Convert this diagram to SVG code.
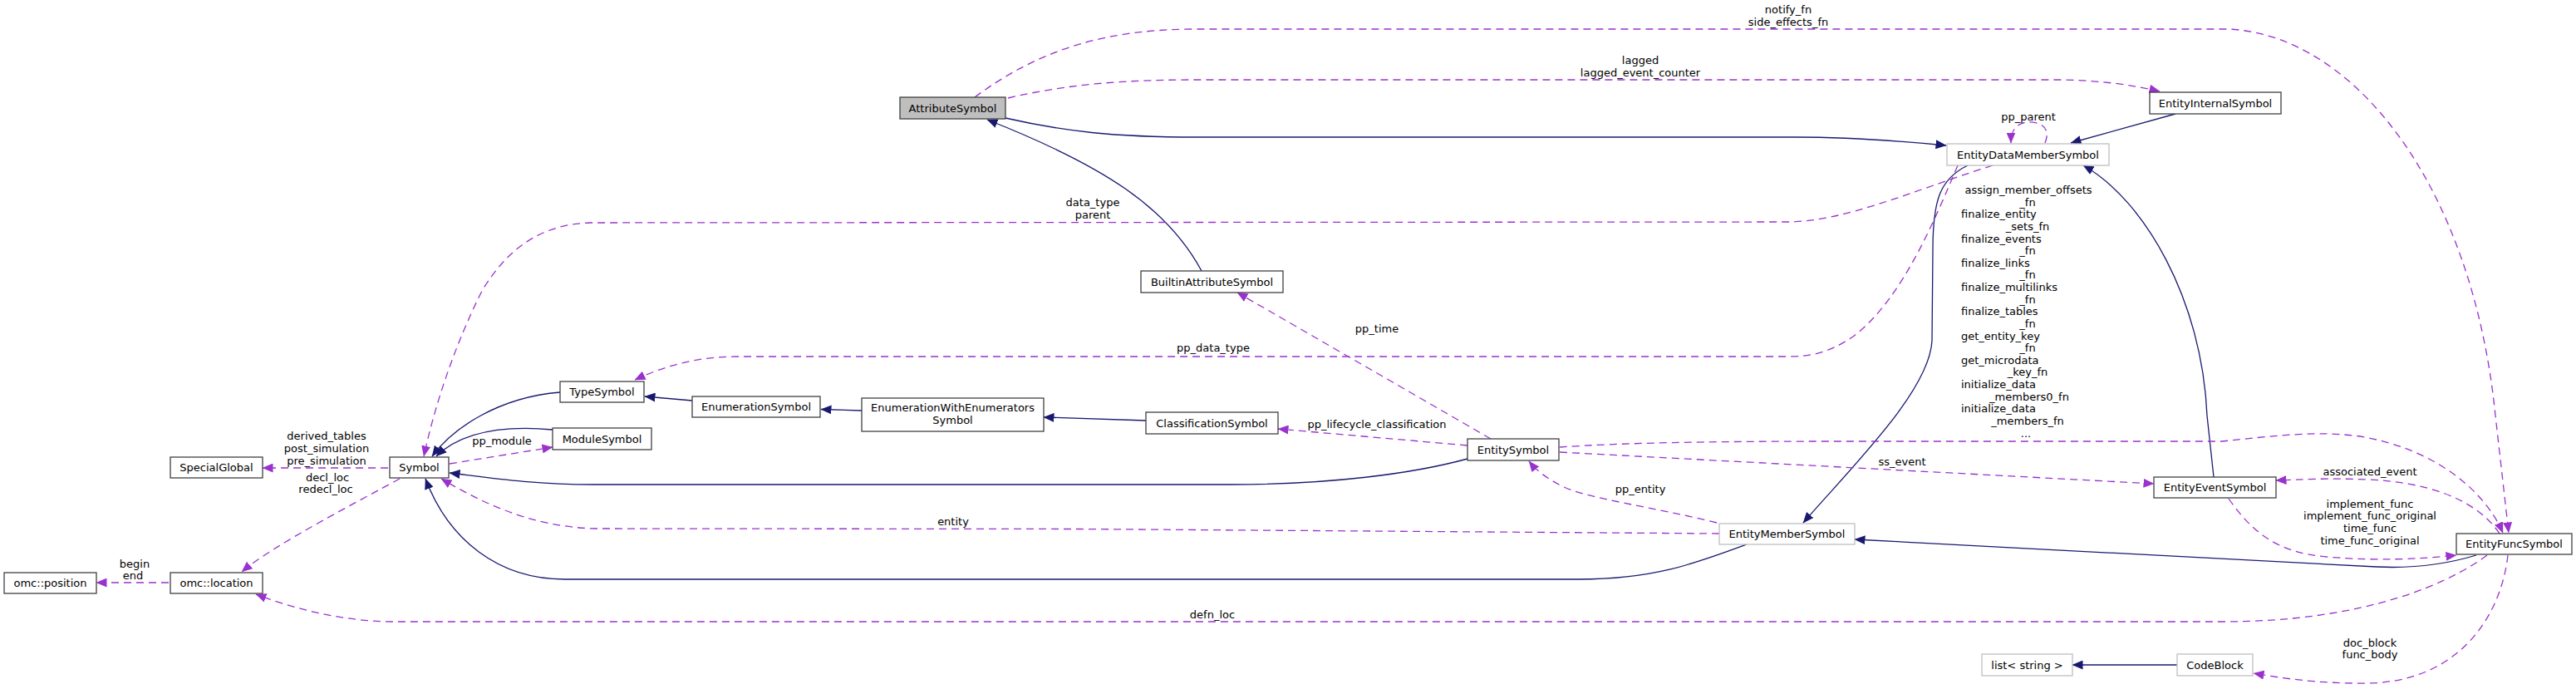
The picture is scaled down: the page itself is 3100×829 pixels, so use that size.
<svg xmlns="http://www.w3.org/2000/svg" width="3100" height="829" viewBox="0 0 3100 829">
<style>
text{font-family:"DejaVu Sans","Liberation Sans",sans-serif;font-size:13px;fill:#000}
.n rect{fill:#fff;stroke:#404040;stroke-width:1.3}
.n.g rect{stroke:#bfbfbf}
.n.f rect{fill:#bfbfbf}
.n text,.c{text-anchor:middle}
.inh{fill:none;stroke:#191970;stroke-width:1.3;marker-end:url(#an)}
.use{fill:none;stroke:#9a32cd;stroke-width:1.3;stroke-dasharray:9,6;marker-end:url(#ap)}
</style>
<defs>
<marker id="an" markerUnits="userSpaceOnUse" markerWidth="13" markerHeight="11" viewBox="0 0 13 11" refX="12.5" refY="5.5" orient="auto"><path d="M0,0 L13,5.5 L0,11 z" fill="#191970"/></marker>
<marker id="ap" markerUnits="userSpaceOnUse" markerWidth="13" markerHeight="11" viewBox="0 0 13 11" refX="12.5" refY="5.5" orient="auto"><path d="M0,0 L13,5.5 L0,11 z" fill="#9a32cd"/></marker>
</defs>
<rect width="3100" height="829" fill="#fff"/>
<g id="connectors">
<path class="use" d="M467,563 L316,563"/>
<path class="use" d="M481,576 C430,604 330,655 291,688"/>
<path class="use" d="M203,701 L116,701"/>
<path class="inh" d="M674,472 C600,478 545,515 520,549"/>
<path class="inh" d="M665,517 C620,513 560,515 525,549"/>
<path class="use" d="M541,558 L665,538"/>
<path class="inh" d="M833,482 L776,477"/>
<path class="inh" d="M1037,494 L988,492.5"/>
<path class="inh" d="M1379,506 L1256,502"/>
<path class="inh" d="M1446,326 C1405,250 1330,200 1188,144"/>
<path class="inh" d="M1210,142 C1280,158 1340,165 1440,165 L2160,165 C2230,165 2290,170 2342,175"/>
<path class="use" d="M1213,118 C1290,100 1360,96 1440,96 L2480,96 C2530,97 2565,102 2599,110"/>
<path class="use" d="M1173,117 C1250,60 1330,35 1440,35 L2680,35 C2830,40 2975,220 3003,500 L3019,641"/>
<path class="inh" d="M2618,137 L2492,172"/>
<path class="use" d="M2461,172 C2470,150 2450,146 2440,147 C2428,148 2420,155 2420,172"/>
<path class="use" d="M2398,199 C2300,230 2220,267 2150,267 L710,268 C650,270 610,300 580,350 C550,410 525,480 510,549"/>
<path class="use" d="M2356,199 C2330,260 2290,360 2230,405 C2200,425 2180,429 2150,429 L888,429 C840,429 800,440 764,457"/>
<path class="inh" d="M2664,574 L2656,500 C2650,360 2580,240 2507,199"/>
<path class="inh" d="M2368,199 C2335,215 2326,240 2326,300 L2325,410 C2322,470 2230,560 2170,629"/>
<path class="inh" d="M1766,552 C1700,570 1600,583 1480,583 L715,583 C640,583 590,575 541,569"/>
<path class="use" d="M1766,536 L1538,516"/>
<path class="use" d="M1794,528 L1489,352"/>
<path class="use" d="M1877,538 C1950,533 2050,531 2200,531 L2674,531 C2740,524 2790,518 2840,525 C2930,540 2990,590 3012,641"/>
<path class="use" d="M1877,544 L2592,582"/>
<path class="use" d="M2066,629 C1990,610 1910,600 1880,585 C1860,575 1848,565 1840,555"/>
<path class="use" d="M2069,642 L1300,636.5 L716,636 C640,634 580,605 531,576"/>
<path class="inh" d="M2102,655 C2040,678 1990,697 1900,697 L680,697 C600,697 540,650 512,576"/>
<path class="inh" d="M2980,668 C2940,680 2900,684 2860,682 L2232,649"/>
<path class="use" d="M3008,642 C2980,600 2920,580 2850,577 C2800,575 2770,577 2739,578"/>
<path class="use" d="M2682,600 C2710,640 2740,665 2800,670 C2860,675 2910,673 2956,668"/>
<path class="use" d="M2993,668 C2950,700 2850,748 2674,748 L474,748 C420,748 360,735 308,715"/>
<path class="use" d="M3018,668 C3010,740 2960,820 2850,822 C2790,823 2740,815 2712,810"/>
<path class="inh" d="M2620,800 L2494,800"/>
<g id="edge-labels">
<text class="c" x="393" y="529">derived_tables</text>
<text class="c" x="393" y="544">post_simulation</text>
<text class="c" x="393" y="559">pre_simulation</text>
<text class="c" x="394" y="579">decl_loc</text>
<text class="c" x="392" y="593">redecl_loc</text>
<text class="c" x="162" y="683">begin</text>
<text class="c" x="160" y="697">end</text>
<text class="c" x="604" y="535">pp_module</text>
<text class="c" x="1974" y="77">lagged</text>
<text class="c" x="1974" y="92">lagged_event_counter</text>
<text class="c" x="2152" y="16">notify_fn</text>
<text class="c" x="2152" y="31">side_effects_fn</text>
<text class="c" x="2441" y="145">pp_parent</text>
<text class="c" x="1315" y="248">data_type</text>
<text class="c" x="1315" y="263">parent</text>
<text class="c" x="1460" y="423">pp_data_type</text>
<text class="c" x="1657" y="400">pp_time</text>
<text class="c" x="1657" y="515">pp_lifecycle_classification</text>
<text class="c" x="1974" y="593">pp_entity</text>
<text class="c" x="1147" y="632">entity</text>
<text class="c" x="2289" y="560">ss_event</text>
<text class="c" x="2852" y="572">associated_event</text>
<text class="c" x="2852" y="611">implement_func</text>
<text class="c" x="2852" y="625">implement_func_original</text>
<text class="c" x="2852" y="640">time_func</text>
<text class="c" x="2852" y="655">time_func_original</text>
<text class="c" x="1459" y="744">defn_loc</text>
<text class="c" x="2852" y="778">doc_block</text>
<text class="c" x="2852" y="792">func_body</text>
<text class="c" x="2441" y="233">assign_member_offsets</text>
<text class="c" x="2440" y="248">_fn</text>
<text x="2360" y="262">finalize_entity</text>
<text class="c" x="2440" y="277">_sets_fn</text>
<text x="2360" y="292">finalize_events</text>
<text class="c" x="2440" y="306">_fn</text>
<text x="2360" y="321">finalize_links</text>
<text class="c" x="2440" y="335">_fn</text>
<text x="2360" y="350">finalize_multilinks</text>
<text class="c" x="2440" y="365">_fn</text>
<text x="2360" y="379">finalize_tables</text>
<text class="c" x="2440" y="394">_fn</text>
<text x="2360" y="409">get_entity_key</text>
<text class="c" x="2440" y="423">_fn</text>
<text x="2360" y="438">get_microdata</text>
<text class="c" x="2440" y="452">_key_fn</text>
<text x="2360" y="467">initialize_data</text>
<text class="c" x="2442" y="482">_members0_fn</text>
<text x="2360" y="496">initialize_data</text>
<text class="c" x="2440" y="511">_members_fn</text>
<text class="c" x="2438" y="526">...</text>
</g>
</g>
<g id="AttributeSymbol" class="n f"><rect x="1083" y="117" width="127" height="26"/><text x="1146.5" y="135">AttributeSymbol</text></g>
<g id="EntityInternalSymbol" class="n"><rect x="2587" y="111" width="158" height="26"/><text x="2666" y="129">EntityInternalSymbol</text></g>
<g id="EntityDataMemberSymbol" class="n g"><rect x="2343" y="173" width="195" height="26"/><text x="2440.5" y="191">EntityDataMemberSymbol</text></g>
<g id="BuiltinAttributeSymbol" class="n"><rect x="1373" y="326" width="171" height="26"/><text x="1458.5" y="344">BuiltinAttributeSymbol</text></g>
<g id="TypeSymbol" class="n"><rect x="674" y="459" width="101" height="25"/><text x="724.5" y="476">TypeSymbol</text></g>
<g id="ModuleSymbol" class="n"><rect x="665" y="515" width="119" height="26"/><text x="724.5" y="533">ModuleSymbol</text></g>
<g id="EnumerationSymbol" class="n"><rect x="833" y="477" width="154" height="25"/><text x="910" y="494">EnumerationSymbol</text></g>
<g id="EnumerationWithEnumeratorsSymbol" class="n"><rect x="1037" y="479" width="219" height="40"/><text x="1146.5" y="495">EnumerationWithEnumerators</text><text x="1146.5" y="510">Symbol</text></g>
<g id="ClassificationSymbol" class="n"><rect x="1379" y="496" width="159" height="26"/><text x="1458.5" y="514">ClassificationSymbol</text></g>
<g id="EntitySymbol" class="n"><rect x="1766" y="528" width="110" height="26"/><text x="1821" y="546">EntitySymbol</text></g>
<g id="Symbol" class="n"><rect x="469" y="550" width="71" height="25"/><text x="504.5" y="567">Symbol</text></g>
<g id="SpecialGlobal" class="n"><rect x="205" y="550" width="111" height="25"/><text x="260.5" y="567">SpecialGlobal</text></g>
<g id="omc_location" class="n"><rect x="205" y="689" width="111" height="25"/><text x="260.5" y="706">omc::location</text></g>
<g id="omc_position" class="n"><rect x="5" y="689" width="111" height="25"/><text x="60.5" y="706">omc::position</text></g>
<g id="EntityMemberSymbol" class="n g"><rect x="2069" y="630" width="163" height="25"/><text x="2150.5" y="647">EntityMemberSymbol</text></g>
<g id="EntityEventSymbol" class="n"><rect x="2592" y="574" width="147" height="25"/><text x="2665.5" y="591">EntityEventSymbol</text></g>
<g id="EntityFuncSymbol" class="n"><rect x="2956" y="642" width="139" height="25"/><text x="3025.5" y="659">EntityFuncSymbol</text></g>
<g id="list_string" class="n g"><rect x="2385" y="787" width="109" height="26"/><text x="2439.5" y="805">list&lt; string &gt;</text></g>
<g id="CodeBlock" class="n g"><rect x="2620" y="787" width="91" height="26"/><text x="2665.5" y="805">CodeBlock</text></g>
</svg>
